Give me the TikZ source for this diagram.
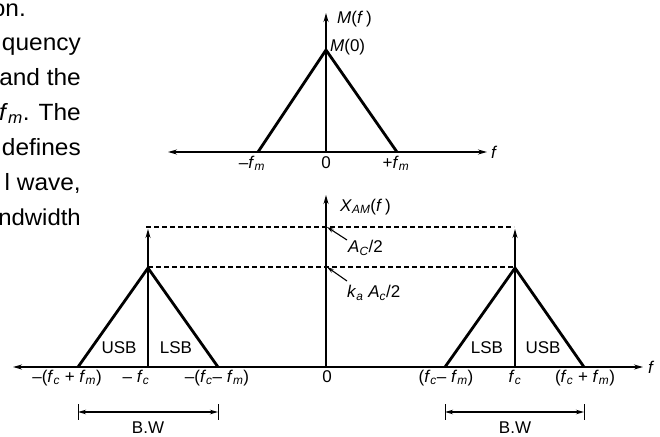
\documentclass[tikz,border=0pt]{standalone}
\usepackage{fontspec}
\setmainfont{Liberation Sans}
\newfontfamily\bodyfont[FakeStretch=1.04]{Liberation Sans}
\usetikzlibrary{arrows.meta}
\newcommand{\iv}[1]{\textit{#1}}
\newcommand{\lsb}[1]{\textsubscript{\textit{#1}}}
\tikzset{
  axisline/.style={line width=1.3pt, -{Stealth[length=9pt,width=5pt]}},
  axisboth/.style={line width=1.3pt, {Stealth[length=9pt,width=5pt]}-{Stealth[length=9pt,width=5pt]}},
  triline/.style={line width=2.8pt, line join=miter},
  dashline/.style={line width=1.3pt, dash pattern=on 5pt off 3pt},
  pointer/.style={line width=1.1pt, -{Stealth[length=7pt,width=4pt]}},
  bwline/.style={line width=1.3pt, {Stealth[length=8pt,width=4.5pt]}-{Stealth[length=8pt,width=4.5pt]}},
  tickline/.style={line width=0.9pt},
  lbl/.style={inner sep=0pt, font=\fontsize{17}{20}\selectfont},
  bodytxt/.style={inner sep=0pt, anchor=base east, font=\bodyfont\fontsize{23.5}{28}\selectfont}
}
\begin{document}
\begin{tikzpicture}[x=1pt,y=-1pt]
\useasboundingbox (0,0) rectangle (660,436);
% page text fragments on the left
\node[bodytxt] (t1) at (26,17) {on.};
\node[bodytxt] (t2) at (81,50) {quency};
\node[bodytxt] (t3) at (81,85) {and the};
\node[bodytxt] (t4) at (81,120) {\iv{f}\lsb{m}. The};
\node[bodytxt] (t5) at (81,155) {defines};
\node[bodytxt] (t6) at (81,190) {l wave,};
\node[bodytxt, font=\bodyfont\fontsize{23}{28}\selectfont] (t7) at (81,225) {ndwidth};

% ---------- top spectrum M(f) ----------
\coordinate (aL) at (168,152);
\coordinate (aR) at (487,152);
\coordinate (o1) at (326,152);
\coordinate (y1) at (326,13);
\coordinate (p1) at (326,50);
\coordinate (fm1) at (258,152);
\coordinate (fm2) at (397,152);
\draw[axisboth] (aL) -- (aR);
\draw[axisline] (o1) -- (y1);
\draw[triline] (fm1) -- (p1) -- (fm2);
\node[lbl, anchor=west] (Mf) at (337,19) {\iv{M}(\iv{f}\,)};
\node[lbl, anchor=west] (M0) at (330,47) {\iv{M}(0)};
\node[lbl, anchor=west] (fT) at (491,152) {\iv{f}};
\node[lbl, anchor=base] (lfm1) at (252,168) {–\iv{f}\lsb{m}};
\node[lbl, anchor=base] (l01) at (326,168) {0};
\node[lbl, anchor=base] (lfm2) at (396,168) {+\iv{f}\lsb{m}};

% ---------- bottom spectrum X_AM(f) ----------
\coordinate (bL) at (13,367);
\coordinate (bR) at (643,367);
\coordinate (o2) at (326,367);
\coordinate (y2) at (326,195);
\coordinate (la) at (78,367);
\coordinate (lp) at (148,268);
\coordinate (lb) at (218,367);
\coordinate (lc) at (148,367);
\coordinate (lt) at (148,229);
\coordinate (ra) at (445,367);
\coordinate (rp) at (515,268);
\coordinate (rb) at (584,367);
\coordinate (rc) at (515,367);
\coordinate (rt) at (515,229);
\coordinate (d1a) at (146,227);
\coordinate (d1b) at (514,227);
\coordinate (d2a) at (148,267);
\coordinate (d2b) at (515,267);
\coordinate (ax1) at (327,227);
\coordinate (ax2) at (327,267);

\draw[axisboth] (bL) -- (bR);
\draw[axisline] (o2) -- (y2);
\draw[dashline] (d1a) -- (d1b);
\draw[dashline] (d2a) -- (d2b);
\draw[axisline] (lc) -- (lt);
\draw[axisline] (rc) -- (rt);
\draw[triline] (la) -- (lp) -- (lb);
\draw[triline] (ra) -- (rp) -- (rb);

\node[lbl, anchor=west] (XAM) at (340,207) {\iv{X}\lsb{AM}(\iv{f}\,)};
\node[lbl, anchor=west] (Ac) at (348,248) {\iv{A}\lsb{C}/2};
\node[lbl, anchor=west] (kA) at (347,293) {\iv{k}\lsb{a} \iv{A}\lsb{c}/2};
\coordinate (pAc) at (347,240);
\coordinate (pkA) at (347,281);
\draw[pointer] (pAc) -- (ax1);
\draw[pointer] (pkA) -- (ax2);

\node[lbl] (usb1) at (119,348) {USB};
\node[lbl] (lsb1) at (176,348) {LSB};
\node[lbl] (lsb2) at (487,348) {LSB};
\node[lbl] (usb2) at (543,348) {USB};

\node[lbl, anchor=west] (fB) at (648,367) {\iv{f}};
\node[lbl, anchor=base] (b1) at (67,382) {–(\iv{f}\lsb{c} + \iv{f}\lsb{m})};
\node[lbl, anchor=base] (b2) at (136,382) {– \iv{f}\lsb{c}};
\node[lbl, anchor=base] (b3) at (217,382) {–(\iv{f}\lsb{c}– \iv{f}\lsb{m})};
\node[lbl, anchor=base] (b4) at (327,382) {0};
\node[lbl, anchor=base] (b5) at (446,382) {(\iv{f}\lsb{c}– \iv{f}\lsb{m})};
\node[lbl, anchor=base] (b6) at (515,382) {\iv{f}\lsb{c}};
\node[lbl, anchor=base] (b7) at (585,382) {(\iv{f}\lsb{c} + \iv{f}\lsb{m})};

% bandwidth markers
\coordinate (w1t) at (78,404);
\coordinate (w1b) at (78,420);
\coordinate (w2t) at (218,404);
\coordinate (w2b) at (218,420);
\coordinate (w3t) at (445,404);
\coordinate (w3b) at (445,420);
\coordinate (w4t) at (584,404);
\coordinate (w4b) at (584,420);
\draw[tickline] (w1t) -- (w1b);
\draw[tickline] (w2t) -- (w2b);
\draw[tickline] (w3t) -- (w3b);
\draw[tickline] (w4t) -- (w4b);
\coordinate (w1) at (78,412);
\coordinate (w2) at (218,412);
\coordinate (w3) at (445,412);
\coordinate (w4) at (584,412);
\draw[bwline] (w1) -- (w2);
\draw[bwline] (w3) -- (w4);
\node[lbl] (bw1) at (148,428) {B.W};
\node[lbl] (bw2) at (515,428) {B.W};
\end{tikzpicture}
\end{document}
